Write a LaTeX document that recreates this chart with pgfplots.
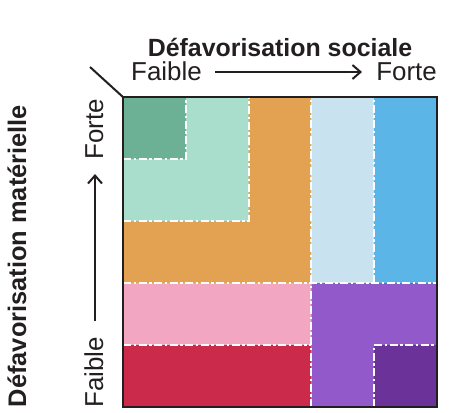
\documentclass[border=0pt]{standalone}
\usepackage{fontspec}
\setmainfont{Liberation Sans}
\usepackage{pgfplots}
\pgfplotsset{compat=1.18}
\usetikzlibrary{arrows.meta}
\definecolor{cdgreen}{HTML}{6CB096}
\definecolor{clgreen}{HTML}{A9DECC}
\definecolor{corange}{HTML}{E3A152}
\definecolor{clblue}{HTML}{C9E2EF}
\definecolor{cblue}{HTML}{5BB5E6}
\definecolor{cpink}{HTML}{F2A6C1}
\definecolor{cred}{HTML}{CB2A4B}
\definecolor{cpurple}{HTML}{9159C9}
\definecolor{cdpurple}{HTML}{6B3399}
\definecolor{ctext}{HTML}{231F20}
\begin{document}
\begin{tikzpicture}[x=1bp,y=1bp]
\begin{axis}[
  at={(123bp,-407bp)}, anchor=south west,
  scale only axis, width=314bp, height=310bp,
  xmin=0, xmax=5, ymin=0, ymax=5,
  xtick=\empty, ytick=\empty,
  axis on top,
  axis line style={line width=2bp, ctext},
  wl/.style={draw=white, line width=2bp, dash pattern=on 8bp off 2.5bp on 2.5bp off 2.5bp, mark=none},
  fl/.style={draw=none, mark=none},
]
% fills
\addplot[fl, fill=corange] coordinates {(0,2) (3,2) (3,5) (0,5) (0,2)};
\addplot[fl, fill=clgreen] coordinates {(0,3) (2,3) (2,5) (0,5) (0,3)};
\addplot[fl, fill=cdgreen] coordinates {(0,4) (1,4) (1,5) (0,5) (0,4)};
\addplot[fl, fill=clblue] coordinates {(3,2) (4,2) (4,5) (3,5) (3,2)};
\addplot[fl, fill=cblue] coordinates {(4,2) (5,2) (5,5) (4,5) (4,2)};
\addplot[fl, fill=cpink] coordinates {(0,1) (3,1) (3,2) (0,2) (0,1)};
\addplot[fl, fill=cred] coordinates {(0,0) (3,0) (3,1) (0,1) (0,0)};
\addplot[fl, fill=cpurple] coordinates {(3,0) (5,0) (5,2) (3,2) (3,0)};
\addplot[fl, fill=cdpurple] coordinates {(4,0) (5,0) (5,1) (4,1) (4,0)};
% white dashed boundaries
\addplot[wl] coordinates {(0,4) (1,4) (1,5)};
\addplot[wl] coordinates {(0,3) (2,3) (2,5)};
\addplot[wl] coordinates {(3,2) (3,5)};
\addplot[wl] coordinates {(4,2) (4,5)};
\addplot[wl] coordinates {(0,2) (5,2)};
\addplot[wl] coordinates {(0,1) (3,1)};
\addplot[wl] coordinates {(3,0) (3,2)};
\addplot[wl] coordinates {(4,0) (4,1) (5,1)};
\end{axis}
% corner diagonal
\draw[line width=2bp, ctext] (90,-67) -- (123.5,-97.5);
% titles
\node[font=\fontsize{25}{30}\selectfont\bfseries, text=ctext, anchor=base, inner sep=0] at (280,-56) {Défavorisation sociale};
\node[font=\fontsize{26}{30}\selectfont, text=ctext, anchor=base west, inner sep=0] at (131,-80) {Faible};
\node[font=\fontsize{26}{30}\selectfont, text=ctext, anchor=base east, inner sep=0] at (437,-80) {Forte};
\draw[line width=2bp, ctext, -{Straight Barb[length=8bp, width=14bp, line width=2bp]}] (215,-72) -- (362,-72);
% left side
\node[font=\fontsize{25.5}{30}\selectfont\bfseries, text=ctext, anchor=base, rotate=90, inner sep=0] at (26,-256) {Défavorisation matérielle};
\node[font=\fontsize{26}{30}\selectfont, text=ctext, anchor=base west, rotate=90, inner sep=0] at (103,-408) {Faible};
\node[font=\fontsize{26}{30}\selectfont, text=ctext, anchor=base east, rotate=90, inner sep=0] at (103,-99) {Forte};
\draw[line width=2bp, ctext, -{Straight Barb[length=8bp, width=14bp, line width=2bp]}] (95,-321) -- (95,-174);
\pgfresetboundingbox
\path[use as bounding box] (0,0) rectangle (452,-412);
\end{tikzpicture}
\end{document}
